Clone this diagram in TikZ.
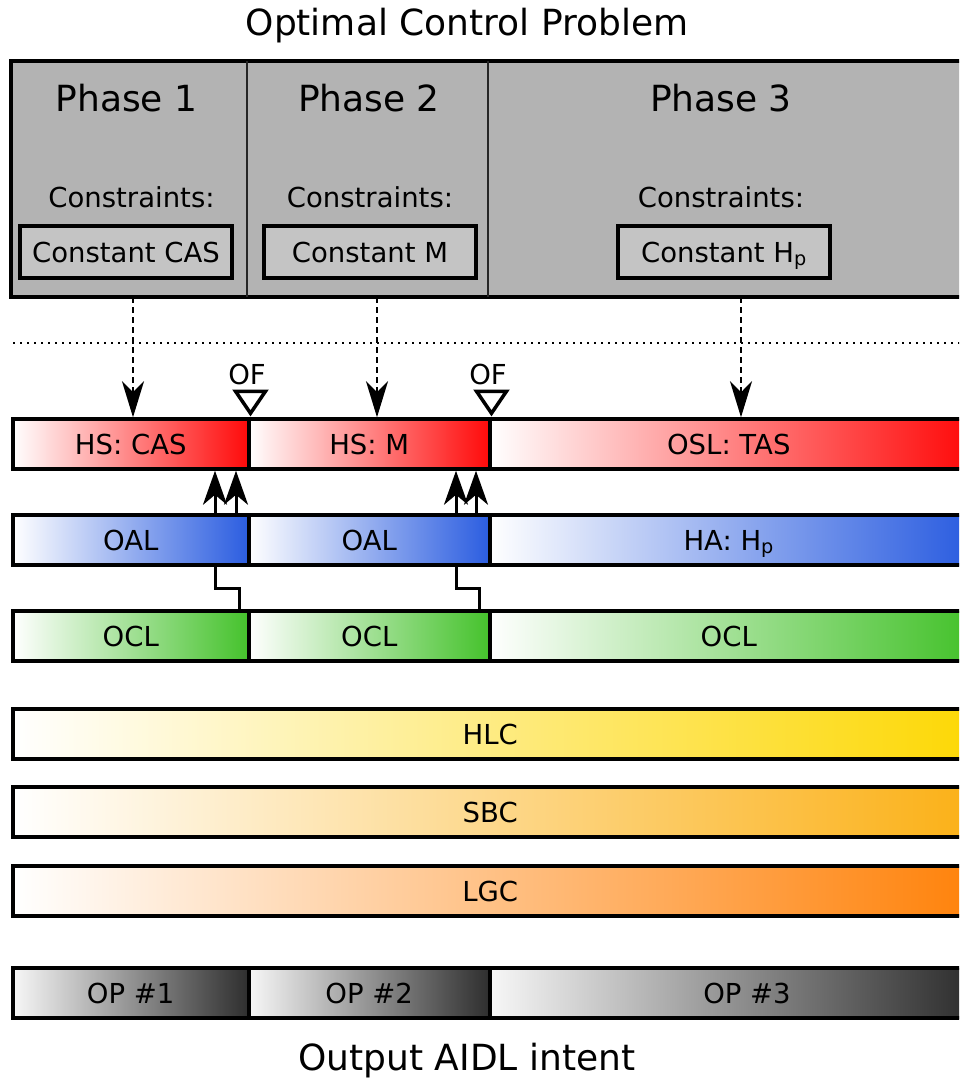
\documentclass[tikz,border=0pt]{standalone}
\usepackage{fontspec}
\setmainfont{DejaVu Sans}
\usetikzlibrary{arrows.meta}
\definecolor{phasegray}{HTML}{B3B3B3}
\definecolor{boxgray}{HTML}{C4C4C4}
\definecolor{hsred}{HTML}{FF0A0A}
\definecolor{hablue}{HTML}{2B5DE0}
\definecolor{oclgreen}{HTML}{45C22C}
\definecolor{hlcyellow}{HTML}{FDD806}
\definecolor{sbcorange}{HTML}{FBB118}
\definecolor{lgcorange}{HTML}{FF830C}
\definecolor{opdark}{HTML}{2E2E2E}
\definecolor{oplight}{HTML}{F7F7F7}
\begin{document}
\begin{tikzpicture}[x=1pt,y=-1pt,
  big/.style={font=\fontsize{36}{40}\selectfont, text height=26pt, text depth=0pt, inner sep=0pt},
  small/.style={font=\fontsize{27.5}{32}\selectfont, text height=20pt, text depth=0pt, inner sep=0pt},
  seg/.style={small, draw, line width=3.5pt, minimum height=50pt, anchor=west},
  redseg/.style={seg, left color=white, right color=hsred},
  blueseg/.style={seg, left color=white, right color=hablue},
  greenseg/.style={seg, left color=white, right color=oclgreen},
  yellowseg/.style={seg, left color=white, right color=hlcyellow},
  sbcseg/.style={seg, left color=white, right color=sbcorange},
  lgcseg/.style={seg, left color=white, right color=lgcorange},
  opseg/.style={seg, left color=oplight, right color=opdark},
  constbox/.style={small, draw, line width=3.5pt, fill=boxgray, minimum width=212pt, minimum height=52pt},
  divider/.style={line width=1.5pt, draw=black!85},
  bighead/.tip={Stealth[length=36pt, width=22pt, inset=11pt]},
  uphead/.tip={Stealth[length=34pt, width=24pt, inset=10pt]},
  upconn/.style={line width=3pt, -uphead},
  zigconn/.style={line width=3pt},
  dashconn/.style={line width=2pt, dash pattern=on 6pt off 4pt, -bighead},
  oftri/.style={line width=3.5pt, fill=white, draw=black},
  dotline/.style={line width=2pt, dash pattern=on 2pt off 5pt}
]
\clip (0,0) rectangle (959,1079);

% Title and footer
\node[big] (title) at (467,22) {Optimal Control Problem};
\node[big] (footer) at (467,1057) {Output AIDL intent};

% Optimal control problem with its three phases
\node[draw, line width=3.5pt, fill=phasegray, outer sep=0pt, anchor=north west,
      minimum width=955pt, minimum height=236pt] (ocp) at (11,61) {};
\coordinate (v1) at (247,0);
\coordinate (v2) at (488,0);
\draw[divider] (ocp.north -| v1) -- (ocp.south -| v1);
\draw[divider] (ocp.north -| v2) -- (ocp.south -| v2);

\node[big] (ph1) at (126.5,98) {Phase 1};
\node[big] (ph2) at (369,98) {Phase 2};
\node[big] (ph3) at (721,98) {Phase 3};
\node[small] (cs1) at (131.5,197) {Constraints:};
\node[small] (cs2) at (370,197) {Constraints:};
\node[small] (cs3) at (721,197) {Constraints:};
\node[constbox] (cas) at (126,252) {Constant CAS};
\node[constbox] (mach) at (370,252) {Constant M};
\node[constbox] (hp) at (724,252) {Constant H\textsubscript{p}};

% Separator
\coordinate (dl) at (13,343);
\coordinate (dr) at (966,343);
\draw[dotline] (dl) -- (dr);

% Bar rows
\node[redseg, minimum width=236pt] (hs1) at (11,444) {HS: CAS};
\node[redseg, minimum width=241pt] (hs2) at (247,444) {HS: M};
\node[redseg, minimum width=478pt] (osl) at (488,444) {OSL: TAS};

\node[blueseg, minimum width=236pt] (oal1) at (11,540) {OAL};
\node[blueseg, minimum width=241pt] (oal2) at (247,540) {OAL};
\node[blueseg, minimum width=478pt] (ha) at (488,540) {HA: H\textsubscript{p}};

\node[greenseg, minimum width=236pt] (ocl1) at (11,636) {OCL};
\node[greenseg, minimum width=241pt] (ocl2) at (247,636) {OCL};
\node[greenseg, minimum width=478pt] (ocl3) at (488,636) {OCL};

\node[yellowseg, minimum width=955pt] (hlc) at (11,734) {HLC};
\node[sbcseg, minimum width=955pt] (sbc) at (11,812) {SBC};
\node[lgcseg, minimum width=955pt] (lgc) at (11,891) {LGC};

\node[opseg, minimum width=236pt] (op1) at (11,993) {OP \#1};
\node[opseg, minimum width=241pt] (op2) at (247,993) {OP \#2};
\node[opseg, minimum width=478pt] (op3) at (488,993) {};
\node[small] (op3t) at (747,993) {OP \#3};

% Dashed links from the phase constraints to the bars
\coordinate (d1) at (133,0);
\coordinate (d2) at (377,0);
\coordinate (d3) at (741,0);
\draw[dashconn] (ocp.south -| d1) -- (hs1.north -| d1);
\draw[dashconn] (ocp.south -| d2) -- (hs2.north -| d2);
\draw[dashconn] (ocp.south -| d3) -- (osl.north -| d3);

% OF markers at the phase switches
\draw[oftri] (hs1.north east) ++(0,-4) -- ++(-15,-22) -- ++(30,0) -- cycle;
\draw[oftri] (hs2.north east) ++(0,-4) -- ++(-15,-22) -- ++(30,0) -- cycle;
\node[small] (of1) at (247,374) {OF};
\node[small] (of2) at (488,374) {OF};

% Switching links between the rows
\coordinate (a1) at (215,0);
\coordinate (b1) at (236,0);
\coordinate (c1) at (239,0);
\coordinate (a2) at (456,0);
\coordinate (b2) at (476,0);
\coordinate (c2) at (479,0);
\draw[upconn] (oal1.north -| a1) -- (hs1.south -| a1);
\draw[upconn] (oal1.north -| b1) -- (hs1.south -| b1);
\draw[upconn] (oal2.north -| a2) -- (hs2.south -| a2);
\draw[upconn] (oal2.north -| b2) -- (hs2.south -| b2);
\draw[zigconn] (oal1.south -| a1) -- ++(0,22) -| (ocl1.north -| c1);
\draw[zigconn] (oal2.south -| a2) -- ++(0,22) -| (ocl2.north -| c2);
\end{tikzpicture}
\end{document}
